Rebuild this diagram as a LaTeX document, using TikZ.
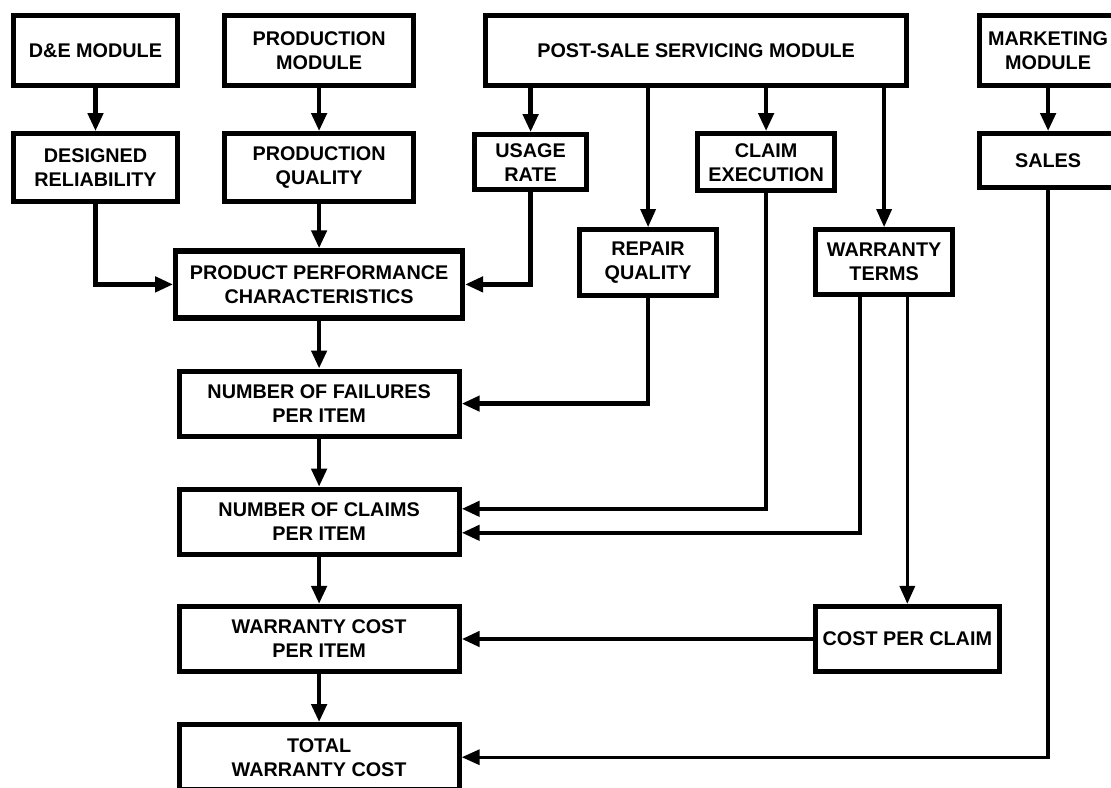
\documentclass[tikz,border=0pt]{standalone}
\usepackage{fontspec}
\setmainfont{Liberation Sans}
\usetikzlibrary{arrows.meta, positioning}

\begin{document}
\begin{tikzpicture}[
        font=\bfseries\fontsize{9.9}{12}\selectfont,
        node distance=21.5pt and 21pt,
        box/.style={draw, line width=2.6pt, align=center, inner sep=2pt, minimum width=82pt, minimum height=35pt},
        line/.style={-{Triangle[length=9pt, width=7.5pt]}, line width=2.2pt},
        thinline/.style={-{Triangle[length=9pt, width=7.5pt]}, line width=1.7pt}
    ]
    \useasboundingbox (0,0) rectangle (555.5pt,-393.5pt);

    % Top row: modules
    \node[box] (de) at (47.75pt,-25.25pt) {D\&E MODULE};
    \node[box, right=21pt of de, minimum width=94.4pt] (prodmod) {PRODUCTION\\ MODULE};
    \node[box, right=33.5pt of prodmod, minimum width=210.4pt] (postsale) {POST-SALE SERVICING MODULE};
    \node[box, right=34pt of postsale, minimum width=68.4pt] (mkt) {MARKETING\\ MODULE};

    % Second row
    \node[box, below=of de, minimum height=34pt] (desrel) {DESIGNED\\ RELIABILITY};
    \node[box, below=of prodmod, minimum width=94.4pt, minimum height=34pt] (prodq) {PRODUCTION\\ QUALITY};
    \node[box, below=22pt of postsale, xshift=-82.75pt, minimum width=56pt, minimum height=27.5pt] (usage) {USAGE\\ RATE};
    \node[box, below=of postsale, xshift=35pt, minimum width=68.4pt, minimum height=28.5pt] (claimex) {CLAIM\\ EXECUTION};
    \node[box, below=of mkt, minimum width=68.4pt, minimum height=27pt] (sales) {SALES};
    \node[box, below=69.5pt of postsale, xshift=-24pt, minimum width=68.4pt, minimum height=33pt] (repair) {REPAIR\\ QUALITY};
    \node[box, below=69.5pt of postsale, xshift=94pt, minimum width=68.4pt, minimum height=32.5pt] (terms) {WARRANTY\\ TERMS};

    % Main chain
    \node[box, below=22pt of prodq, minimum width=143.4pt, minimum height=33.5pt] (ppc) {PRODUCT PERFORMANCE\\ CHARACTERISTICS};
    \node[box, below=24pt of ppc, minimum width=140pt, minimum height=32.5pt] (fail) {NUMBER OF FAILURES\\ PER ITEM};
    \node[box, below=24pt of fail, minimum width=140pt, minimum height=32.5pt] (claims) {NUMBER OF CLAIMS\\ PER ITEM};
    \node[box, below=23.5pt of claims, minimum width=140pt, minimum height=32.5pt] (wcost) {WARRANTY COST\\ PER ITEM};
    \node[box, below=24pt of wcost, minimum width=140pt, minimum height=32.5pt] (total) {TOTAL\\ WARRANTY COST};
    \node[box, right=175.5pt of wcost, minimum width=92pt, minimum height=32.5pt] (cpc) {COST PER CLAIM};

    % Modules to second row
    \draw[line] (de) -- (desrel);
    \draw[line] (prodmod) -- (prodq);
    \draw[line] (postsale.south -| usage.north) -- (usage.north);
    \draw[thinline] (postsale.south -| repair.north) -- (repair.north);
    \draw[line] (postsale.south -| claimex.north) -- (claimex.north);
    \draw[thinline] (postsale.south -| terms.north) -- (terms.north);
    \draw[line] (mkt) -- (sales);

    % Into product performance
    \draw[line] (desrel.south) |- (ppc.west);
    \draw[line] (prodq) -- (ppc);
    \draw[line] (usage.south) |- (ppc.east);

    % Down the chain
    \draw[line] (ppc) -- (fail);
    \draw[line] (repair.south) |- (fail.east);
    \draw[line] (fail) -- (claims);
    \draw[line] (claimex.south) |- ([yshift=6.5pt]claims.east);
    \draw[line] ([xshift=-12pt]terms.south) |- ([yshift=-5.5pt]claims.east);
    \draw[thinline] (terms.south -| cpc.north) -- (cpc.north);
    \draw[line] (claims) -- (wcost);
    \draw[line] (cpc) -- (wcost);
    \draw[line] (wcost) -- (total);
    \draw[thinline] (sales.south) |- (total.east);

\end{tikzpicture}
\end{document}
